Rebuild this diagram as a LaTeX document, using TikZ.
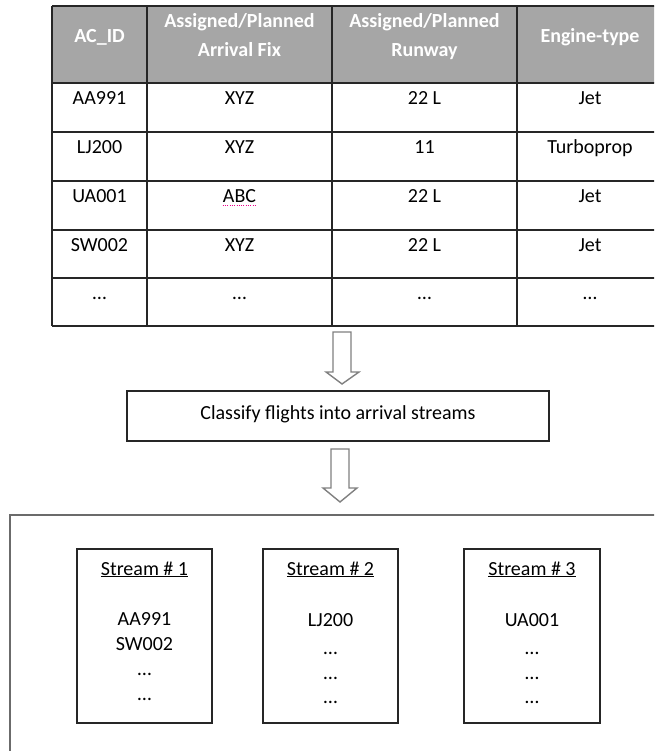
\documentclass[tikz,border=0pt]{standalone}
\usepackage{fontspec}
\setmainfont{Carlito}
\begin{document}
\begin{tikzpicture}[x=1pt,y=-1pt,
  txt/.style={anchor=base,inner sep=0pt,font=\fontsize{20}{24}\selectfont,text=black},
  head/.style={anchor=base,inner sep=0pt,font=\fontsize{20}{24}\selectfont\bfseries,text=white},
  grid/.style={draw=black!85,line width=1.3pt},
  blockarrow/.style={draw=black!50,line width=1.4pt,fill=white,line join=miter},
  plainbox/.style={draw=black!85,line width=1.2pt},
  framebox/.style={draw=black!58,line width=2pt},
]
\useasboundingbox (0,0) rectangle (654,751);
\begin{scope}
\clip (0,0) rectangle (654,751);

% ---- table ----
\fill[black!35] (52,6) rectangle (664,83);
\foreach \y in {6,83,132,181,230,278,326}
  \draw[grid] (52,\y) -- (664,\y);
\foreach \x in {52,147,332,517}
  \draw[grid] (\x,6) -- (\x,326);

% header
\node[head] (h1) at (99.5,42.5) {AC\_ID};
\node[head] (h2a) at (239.5,27.5) {Assigned/Planned};
\node[head] (h2b) at (239.5,56.5) {Arrival Fix};
\node[head] (h3a) at (424.5,27.5) {Assigned/Planned};
\node[head] (h3b) at (424.5,56.5) {Runway};
\node[head] (h4) at (590,42.5) {Engine-type};

% rows
\node[txt] (r1a) at (99.5,104.5) {AA991};
\node[txt] (r1b) at (239.5,104.5) {XYZ};
\node[txt] (r1c) at (424.5,104.5) {22 L};
\node[txt] (r1d) at (590,104.5) {Jet};

\node[txt] (r2a) at (99.5,153.5) {LJ200};
\node[txt] (r2b) at (239.5,153.5) {XYZ};
\node[txt] (r2c) at (424.5,153.5) {11};
\node[txt] (r2d) at (590,153.5) {Turboprop};

\node[txt] (r3a) at (99.5,202.5) {UA001};
\node[txt] (r3b) at (239.5,202.5) {ABC};
\node[txt] (r3c) at (424.5,202.5) {22 L};
\node[txt] (r3d) at (590,202.5) {Jet};
\draw[magenta,line width=1pt,dash pattern=on 1pt off 1.3pt]
  ([yshift=-3.5pt]r3b.base west) -- ([yshift=-3.5pt]r3b.base east);

\node[txt] (r4a) at (99.5,251.5) {SW002};
\node[txt] (r4b) at (239.5,251.5) {XYZ};
\node[txt] (r4c) at (424.5,251.5) {22 L};
\node[txt] (r4d) at (590,251.5) {Jet};

\node[txt] (r5a) at (99.5,299.5) {\dots};
\node[txt] (r5b) at (239.5,299.5) {\dots};
\node[txt] (r5c) at (424.5,299.5) {\dots};
\node[txt] (r5d) at (590,299.5) {\dots};

% ---- first block arrow ----
\draw[blockarrow] (333,332) -- (351,332) -- (351,372) -- (359,372) -- (342,384)
  -- (326,372) -- (333,372) -- cycle;

% ---- classification step ----
\draw[plainbox] (127,391) rectangle (549,441);
\node[txt] (cls) at (338,419.5) {Classify flights into arrival streams};

% ---- second block arrow ----
\draw[blockarrow] (331,449) -- (349,449) -- (349,488) -- (357,488) -- (340,502)
  -- (323,488) -- (331,488) -- cycle;

% ---- stream container ----
\draw[framebox] (10,515) rectangle (664,760);

% stream boxes
\draw[plainbox] (77,549) rectangle (212,723);
\draw[plainbox] (263,549) rectangle (398,723);
\draw[plainbox] (464,549) rectangle (600,723);

\node[txt] (s1) at (144.5,575) {\underline{Stream \# 1}};
\node[txt] (s1a) at (144.5,625) {AA991};
\node[txt] (s1b) at (144.5,650) {SW002};
\node[txt] (s1c) at (144.5,675) {\dots};
\node[txt] (s1d) at (144.5,700) {\dots};

\node[txt] (s2) at (330.5,575) {\underline{Stream \# 2}};
\node[txt] (s2a) at (330.5,626) {LJ200};
\node[txt] (s2b) at (330.5,654) {\dots};
\node[txt] (s2c) at (330.5,679) {\dots};
\node[txt] (s2d) at (330.5,703) {\dots};

\node[txt] (s3) at (532,575) {\underline{Stream \# 3}};
\node[txt] (s3a) at (532,626) {UA001};
\node[txt] (s3b) at (532,654) {\dots};
\node[txt] (s3c) at (532,679) {\dots};
\node[txt] (s3d) at (532,703) {\dots};
\end{scope}
\end{tikzpicture}
\end{document}
